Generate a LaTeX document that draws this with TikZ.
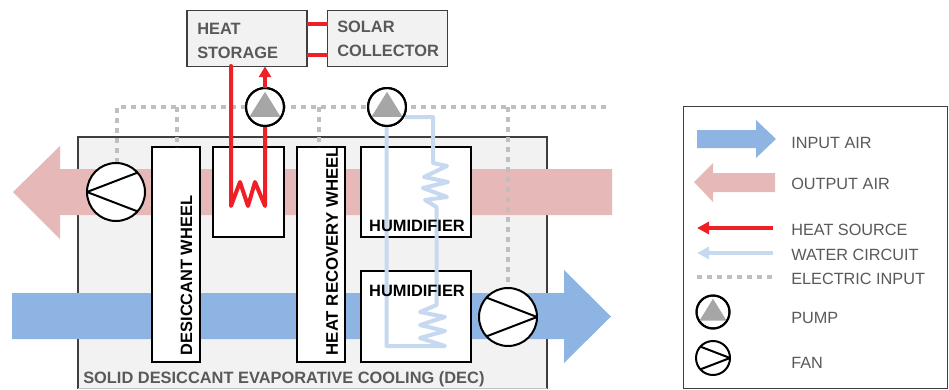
\documentclass[tikz,border=0pt]{standalone}
\usepackage{fontspec}
\setmainfont{Liberation Sans}
\usetikzlibrary{arrows.meta,calc}
\definecolor{pinkair}{HTML}{E6B8B7}
\definecolor{blueair}{HTML}{8EB4E3}
\definecolor{waterc}{HTML}{C6D9F1}
\definecolor{redc}{HTML}{EE2026}
\definecolor{boxgrey}{HTML}{F2F2F2}
\definecolor{txtgrey}{HTML}{595959}
\definecolor{elec}{HTML}{BFBFBF}
\definecolor{pumpgrey}{HTML}{A6A6A6}
\tikzset{
  x=0.75pt,y=-0.75pt,
  unit/.style={draw=black,line width=1.5pt,fill=white,anchor=north west,inner sep=0pt,outer sep=0pt},
  topbox/.style={draw=txtgrey!70!black,line width=0.9pt,fill=boxgrey,anchor=north west,inner sep=0pt,outer sep=0pt},
  redline/.style={draw=redc,line width=3pt,line join=round,line cap=round},
  waterline/.style={draw=waterc,line width=3pt,line join=round},
  elecline/.style={draw=elec,line width=2.4pt,dash pattern=on 3.6pt off 3.9pt},
  roundpart/.style={circle,draw=black,line width=1.5pt,inner sep=0pt,outer sep=0pt},
  whitefill/.style={fill=white},
  boldblack/.style={font=\fontsize{12.3}{14}\selectfont\bfseries,text=black,inner sep=0pt},
  boldgrey/.style={font=\fontsize{12.3}{14}\selectfont\bfseries,text=txtgrey,inner sep=0pt,anchor=base west},
  legendtxt/.style={font=\fontsize{12.2}{14}\selectfont,text=txtgrey,inner sep=0pt,anchor=west},
}
\newcommand{\fanL}[3]{% name, centre, diam
  \node[roundpart,whitefill,minimum size=#3*0.75pt] (#1) at (#2) {};
  \draw[black,line width=1.5pt,line join=round] (#1.42) -- (#1.180) -- (#1.-42);
}
\newcommand{\fanR}[3]{%
  \node[roundpart,whitefill,minimum size=#3*0.75pt] (#1) at (#2) {};
  \draw[black,line width=1.5pt,line join=round] (#1.138) -- (#1.0) -- (#1.222);
}
\newcommand{\pumpsym}[3]{%
  \node[roundpart,whitefill,minimum size=#3*0.75pt] (#1) at (#2) {};
  \fill[pumpgrey] ($(#1)+(0,{-0.4*#3})$) -- ($(#1)+({0.41*#3},{0.26*#3})$) -- ($(#1)+({-0.41*#3},{0.26*#3})$) -- cycle;
  \node[roundpart,minimum size=#3*0.75pt] at (#2) {};
}
\begin{document}
\begin{tikzpicture}
\useasboundingbox (0,0) rectangle (949,389);
% enclosure
\draw[draw=txtgrey!70!black,line width=0.9pt,fill=boxgrey] (78,389) -- (78,137) -- (547,137) -- (547,389);
\draw[draw=boxgrey!80!black,line width=0.6pt] (78,388.5) -- (547,388.5);
% air streams
\fill[pinkair] (612,169) -- (60,169) -- (60,146) -- (13,192) -- (60,239) -- (60,215) -- (612,215) -- cycle;
\fill[blueair] (12,293) -- (564,293) -- (564,270) -- (611,316.5) -- (564,363) -- (564,339) -- (12,339) -- cycle;
% top boxes
\node[topbox,minimum width=90pt,minimum height=42pt] (hs) at (187,10.5) {};
\node[topbox,minimum width=90pt,minimum height=42pt] (sc) at (327.5,10.5) {};
\node[boldgrey] (hst1) at (197,34) {HEAT};
\node[boldgrey] (hst2) at (197,58) {STORAGE};
\node[boldgrey] (sct1) at (337,32) {SOLAR};
\node[boldgrey] (sct2) at (337,56) {COLLECTOR};
\coordinate (hsa) at (307,24); \coordinate (sca) at (327.5,24);
\coordinate (hsb) at (307,54.5); \coordinate (scb) at (327.5,54.5);
\draw[redc,line width=3pt] (hsa) -- (sca);
\draw[redc,line width=3pt] (hsb) -- (scb);
% units
\node[unit,minimum width=36pt,minimum height=161.5pt] (dw) at (152,147) {};
\node[unit,minimum width=53.5pt,minimum height=67.5pt] (hc) at (213,147) {};
\node[unit,minimum width=36pt,minimum height=161.5pt] (hr) at (297,147) {};
\node[unit,minimum width=82.5pt,minimum height=67.5pt] (hu1) at (361,147) {};
\node[unit,minimum width=82.5pt,minimum height=68.5pt] (hu2) at (361,271) {};
% electric
\coordinate (e1) at (117,107); \coordinate (e2) at (177,107); \coordinate (e3) at (319,107);
\coordinate (e4) at (508,107); \coordinate (e5) at (610,107);
\coordinate (e6) at (177,147); \coordinate (e7) at (319,147);
\coordinate (e8) at (117,163);
\coordinate (e9) at (508,288);
\draw[elecline] (e8) -- (e1) -- (e5);
\draw[elecline] (e2) -- (e6);
\draw[elecline] (e3) -- (e7);
\draw[elecline] (e4) -- (e9);
% labels in units
\node[boldblack,rotate=90,anchor=west] (dwt) at (186.5,355.5) {DESICCANT WHEEL};
\node[boldblack,rotate=90,anchor=west,font=\fontsize{12.6}{14}\selectfont\bfseries] (hrt) at (332,355.5) {HEAT RECOVERY WHEEL};
% pumps, coils
\coordinate (rs) at (231,66);
\coordinate (r1) at (231,206); \coordinate (r2) at (240,182); \coordinate (r3) at (248,206);
\coordinate (r4) at (255,182); \coordinate (r5) at (265,206);
\draw[redline] (rs) -- (r1) -- (r2) -- (r3) -- (r4) -- (r5) -- (265,125);
\coordinate (w1) at (433,117);
\draw[waterline] (386.5,125) -- (386.5,346) -- (445,346) -- (420,338) -- (445,331) -- (420,325) -- (445,317) -- (420,312) -- (436.5,305) -- (436.5,207) -- (425,200) -- (447,197) -- (423,188) -- (448,182) -- (424,177) -- (447,166) -- (433,163) -- (w1) -- (405,117);
\node[boldblack] (hut1) at (417,225.5) {HUMIDIFIER};
\node[boldblack] (hut2) at (417,291) {HUMIDIFIER};
\pumpsym{p1}{265,107}{38}
\pumpsym{p2}{387,107}{38}
\draw[redc,line width=3pt,-{Triangle[width=9pt,length=8pt]}] (p1.north) -- (p1.north |- hs.south);
% fans
\fanL{f1}{116,192}{58}
\fanR{f2}{508,317}{58}
% enclosure caption
\node[boldgrey] (cap) at (83,383) {SOLID DESICCANT EVAPORATIVE COOLING (DEC)};
% legend
\node[draw=txtgrey!70!black,line width=0.75pt,anchor=north west,minimum width=198pt,minimum height=211.5pt,inner sep=0pt,outer sep=0pt] (leg) at (683,106) {};
\fill[blueair] (697,130) -- (756,130) -- (756,120) -- (776,139) -- (756,158) -- (756,148) -- (697,148) -- cycle;
\fill[pinkair] (775,173) -- (713,173) -- (713,163) -- (694,182) -- (713,202) -- (713,192) -- (775,192) -- cycle;
\coordinate (la) at (773,228); \coordinate (lb) at (697,228);
\coordinate (lc) at (773,253); \coordinate (ld) at (697,253);
\coordinate (le) at (773,277); \coordinate (lf) at (697,277);
\draw[redc,line width=3pt,-{Triangle[width=9pt,length=9pt]}] (la) -- (lb);
\draw[waterc,line width=3pt,-{Triangle[width=9pt,length=9pt]}] (lc) -- (ld);
\draw[elecline] (lf) -- (le);
\pumpsym{lp}{713,312}{33}
\fanR{lfan}{713,358}{34}
\node[legendtxt] (t1) at (791,143) {INPUT AIR};
\node[legendtxt] (t2) at (791,184) {OUTPUT AIR};
\node[legendtxt] (t3) at (791,230) {HEAT SOURCE};
\node[legendtxt] (t4) at (791,255) {WATER CIRCUIT};
\node[legendtxt] (t5) at (791,279) {ELECTRIC INPUT};
\node[legendtxt] (t6) at (791,318) {PUMP};
\node[legendtxt] (t7) at (791,363) {FAN};
\end{tikzpicture}
\end{document}
